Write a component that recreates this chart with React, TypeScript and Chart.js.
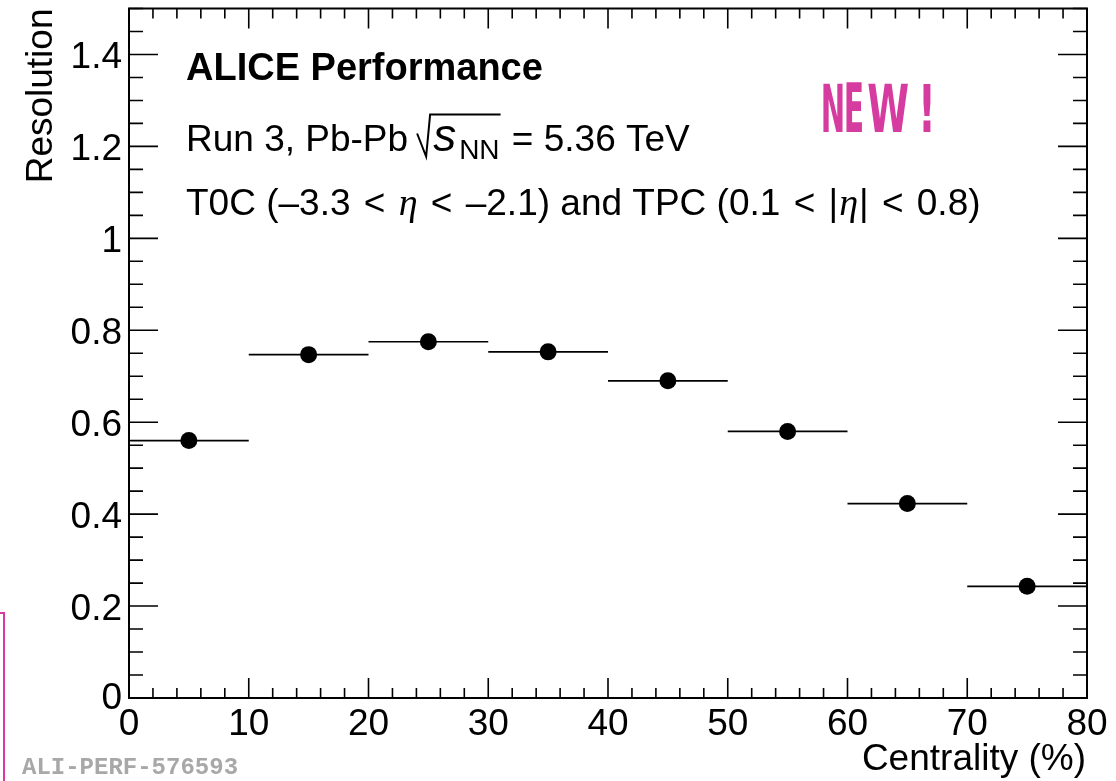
import React, { useEffect, useRef } from "react";
import { Chart, registerables } from "chart.js";

Chart.register(...registerables);

// ---- data ----
const centralityBins = [5, 15, 25, 35, 45, 55, 65, 75];
const binHalfWidth = [5, 5, 5, 5, 5, 5, 5, 5];
const resolution = [0.56, 0.747, 0.775, 0.753, 0.69, 0.58, 0.423, 0.243];

const xTickValues = [0, 10, 20, 30, 40, 50, 60, 70, 80];
const xTickLabels = ["0", "10", "20", "30", "40", "50", "60", "70", "80"];
const yTickValues = [0, 0.2, 0.4, 0.6, 0.8, 1.0, 1.2, 1.4];
const yTickLabels = ["0", "0.2", "0.4", "0.6", "0.8", "1", "1.2", "1.4"];

const X_MIN = 0;
const X_MAX = 80;
const Y_MIN = 0;
const Y_MAX = 1.5;

const SANS = "'Liberation Sans', Arial, Helvetica, sans-serif";
const SERIF = "'Liberation Serif', 'Times New Roman', serif";
const PINK = "#d63c9f";

type Seg = { t: string; f: string; dy?: number; gap?: number };

function drawRich(ctx: CanvasRenderingContext2D, x: number, y: number, segs: Seg[]) {
  let cx = x;
  for (const s of segs) {
    cx += s.gap || 0;
    ctx.font = s.f;
    ctx.fillText(s.t, cx, y + (s.dy || 0));
    cx += ctx.measureText(s.t).width;
  }
  return cx;
}

const rootStyle = {
  id: "rootStyle",
  beforeDatasetsDraw(chart: any) {
    const { ctx, scales } = chart;
    const xs = scales.x;
    const ys = scales.y;
    ctx.save();
    ctx.strokeStyle = "#000";
    ctx.lineWidth = 1.7;
    centralityBins.forEach((c, i) => {
      const py = ys.getPixelForValue(resolution[i]);
      ctx.beginPath();
      ctx.moveTo(xs.getPixelForValue(c - binHalfWidth[i]), py);
      ctx.lineTo(xs.getPixelForValue(c + binHalfWidth[i]), py);
      ctx.stroke();
    });
    ctx.restore();
  },
  afterDraw(chart: any) {
    const { ctx, chartArea, scales } = chart;
    const xs = scales.x;
    const ys = scales.y;
    const { left, right, top, bottom } = chartArea;
    ctx.save();
    ctx.strokeStyle = "#000";
    ctx.fillStyle = "#000";

    // ticks
    ctx.lineWidth = 1.6;
    ctx.beginPath();
    for (let k = 0; k <= 30; k++) {
      const v = Y_MIN + k * 0.05;
      const py = ys.getPixelForValue(v);
      const len = k % 4 === 0 ? 29 : 14;
      ctx.moveTo(left, py);
      ctx.lineTo(left + len, py);
      ctx.moveTo(right, py);
      ctx.lineTo(right - len, py);
    }
    for (let k = 0; k <= 40; k++) {
      const v = X_MIN + k * 2;
      const px = xs.getPixelForValue(v);
      const len = k % 5 === 0 ? 20 : 10;
      ctx.moveTo(px, bottom);
      ctx.lineTo(px, bottom - len);
      ctx.moveTo(px, top);
      ctx.lineTo(px, top + len);
    }
    ctx.stroke();

    // frame
    ctx.lineWidth = 2;
    ctx.strokeRect(left, top, right - left, bottom - top);

    // tick labels
    ctx.font = `37px ${SANS}`;
    ctx.textBaseline = "alphabetic";
    ctx.textAlign = "right";
    yTickValues.forEach((v, i) => {
      const py = ys.getPixelForValue(v);
      ctx.fillText(yTickLabels[i], left - 7, py + 13.5 - (v === 0 ? 3 : 0));
    });
    ctx.textAlign = "center";
    xTickValues.forEach((v, i) => {
      const px = xs.getPixelForValue(v);
      ctx.fillText(xTickLabels[i], px, bottom + 37);
    });

    // axis titles
    ctx.textAlign = "right";
    ctx.fillText("Centrality (%)", right - 1, bottom + 72);
    ctx.save();
    ctx.translate(left - 77, top);
    ctx.rotate(-Math.PI / 2);
    ctx.fillText("Resolution", 0, 0);
    ctx.restore();

    // annotations
    ctx.textAlign = "left";
    const tx = left + 57;
    ctx.font = `bold 38px ${SANS}`;
    ctx.fillText("ALICE Performance", tx, top + 71);

    // Run 3 line with sqrt(s_NN)
    const b2 = top + 142;
    const cx = drawRich(ctx, tx, b2, [{ t: "Run 3, Pb-Pb", f: `37px ${SANS}` }]);
    const x0 = cx + 9;
    ctx.font = `italic 46px ${SANS}`;
    const sX = x0 + 16;
    ctx.fillText("s", sX, b2);
    const sW = ctx.measureText("s").width;
    ctx.font = `28px ${SANS}`;
    const nnX = sX + sW + 3;
    ctx.fillText("NN", nnX, b2 + 8);
    const nnEnd = nnX + ctx.measureText("NN").width;
    ctx.lineWidth = 2;
    ctx.beginPath();
    ctx.moveTo(x0, b2 - 17);
    ctx.lineTo(x0 + 9, b2 + 6);
    ctx.lineTo(x0 + 13, b2 - 36);
    ctx.lineTo(nnEnd + 1, b2 - 36);
    ctx.stroke();
    drawRich(ctx, nnEnd + 2, b2, [{ t: " = 5.36 TeV", f: `37px ${SANS}` }]);

    // T0C line
    const b3 = top + 206;
    const reg = `37px ${SANS}`;
    const eta = `italic 38px ${SERIF}`;
    drawRich(ctx, tx, b3, [
      { t: "T0C (\u20133.3 ", f: reg },
      { t: "<", f: reg, gap: 3 },
      { t: " ", f: reg, gap: 3 },
      { t: "\u03b7", f: eta },
      { t: " ", f: reg },
      { t: "<", f: reg, gap: 3 },
      { t: " \u20132.1) and TPC (0.1 ", f: reg, gap: 3 },
      { t: "<", f: reg, gap: 3 },
      { t: " |", f: reg, gap: 3 },
      { t: "\u03b7", f: eta, gap: 1 },
      { t: "| ", f: reg, gap: 1 },
      { t: "<", f: reg, gap: 3 },
      { t: " 0.8)", f: reg, gap: 3 },
    ]);

    // NEW! stamp
    ctx.fillStyle = PINK;
    const letters = [
      { c: "N", x0: 823, x1: 843 },
      { c: "E", x0: 846, x1: 862 },
      { c: "W", x0: 868, x1: 908 },
      { c: "!", x0: 923, x1: 931 },
    ];
    ctx.font = `bold 60px 'Liberation Sans Narrow', 'DejaVu Sans Condensed', ${SANS}`;
    letters.forEach((L) => {
      const m = ctx.measureText(L.c);
      const w = m.actualBoundingBoxLeft + m.actualBoundingBoxRight;
      const h = m.actualBoundingBoxAscent;
      const sx = (L.x1 - L.x0) / w;
      const sy = 50 / h;
      ctx.save();
      ctx.translate(L.x0, 132);
      ctx.scale(sx, sy);
      ctx.fillText(L.c, m.actualBoundingBoxLeft, 0);
      ctx.restore();
    });

    // ALI-PERF id
    ctx.fillStyle = "#a8a8a8";
    ctx.font = `bold 24px 'Liberation Mono', 'DejaVu Sans Mono', monospace`;
    ctx.fillText("ALI-PERF-576593", 22, 774);

    // pink frame fragment
    ctx.strokeStyle = PINK;
    ctx.lineWidth = 2;
    ctx.beginPath();
    ctx.moveTo(0, 613);
    ctx.lineTo(4, 613);
    ctx.lineTo(4, 781);
    ctx.stroke();

    ctx.restore();
  },
};

export default function App() {
  const ref = useRef<HTMLCanvasElement>(null);
  useEffect(() => {
    document.body.style.margin = "0";
    const canvas = ref.current!;
    const chart = new Chart(canvas, {
      type: "scatter",
      data: {
        datasets: [
          {
            label: "Resolution",
            data: centralityBins.map((c, i) => ({ x: c, y: resolution[i] })),
            backgroundColor: "#000",
            borderColor: "#000",
            borderWidth: 0,
            pointRadius: 8.5,
            pointHoverRadius: 8.5,
          },
        ],
      },
      options: {
        responsive: false,
        animation: false,
        devicePixelRatio: 1,
        layout: { padding: { left: 129, right: 29, top: 7, bottom: 83 } },
        plugins: { legend: { display: false }, tooltip: { enabled: false } },
        scales: {
          x: { type: "linear", min: X_MIN, max: X_MAX, display: false },
          y: { type: "linear", min: Y_MIN, max: Y_MAX, display: false },
        },
        events: [],
      },
      plugins: [rootStyle],
    } as any);
    return () => chart.destroy();
  }, []);
  return (
    <canvas
      ref={ref}
      width={1116}
      height={781}
      style={{ display: "block", width: "1116px", height: "781px" }}
    />
  );
}
